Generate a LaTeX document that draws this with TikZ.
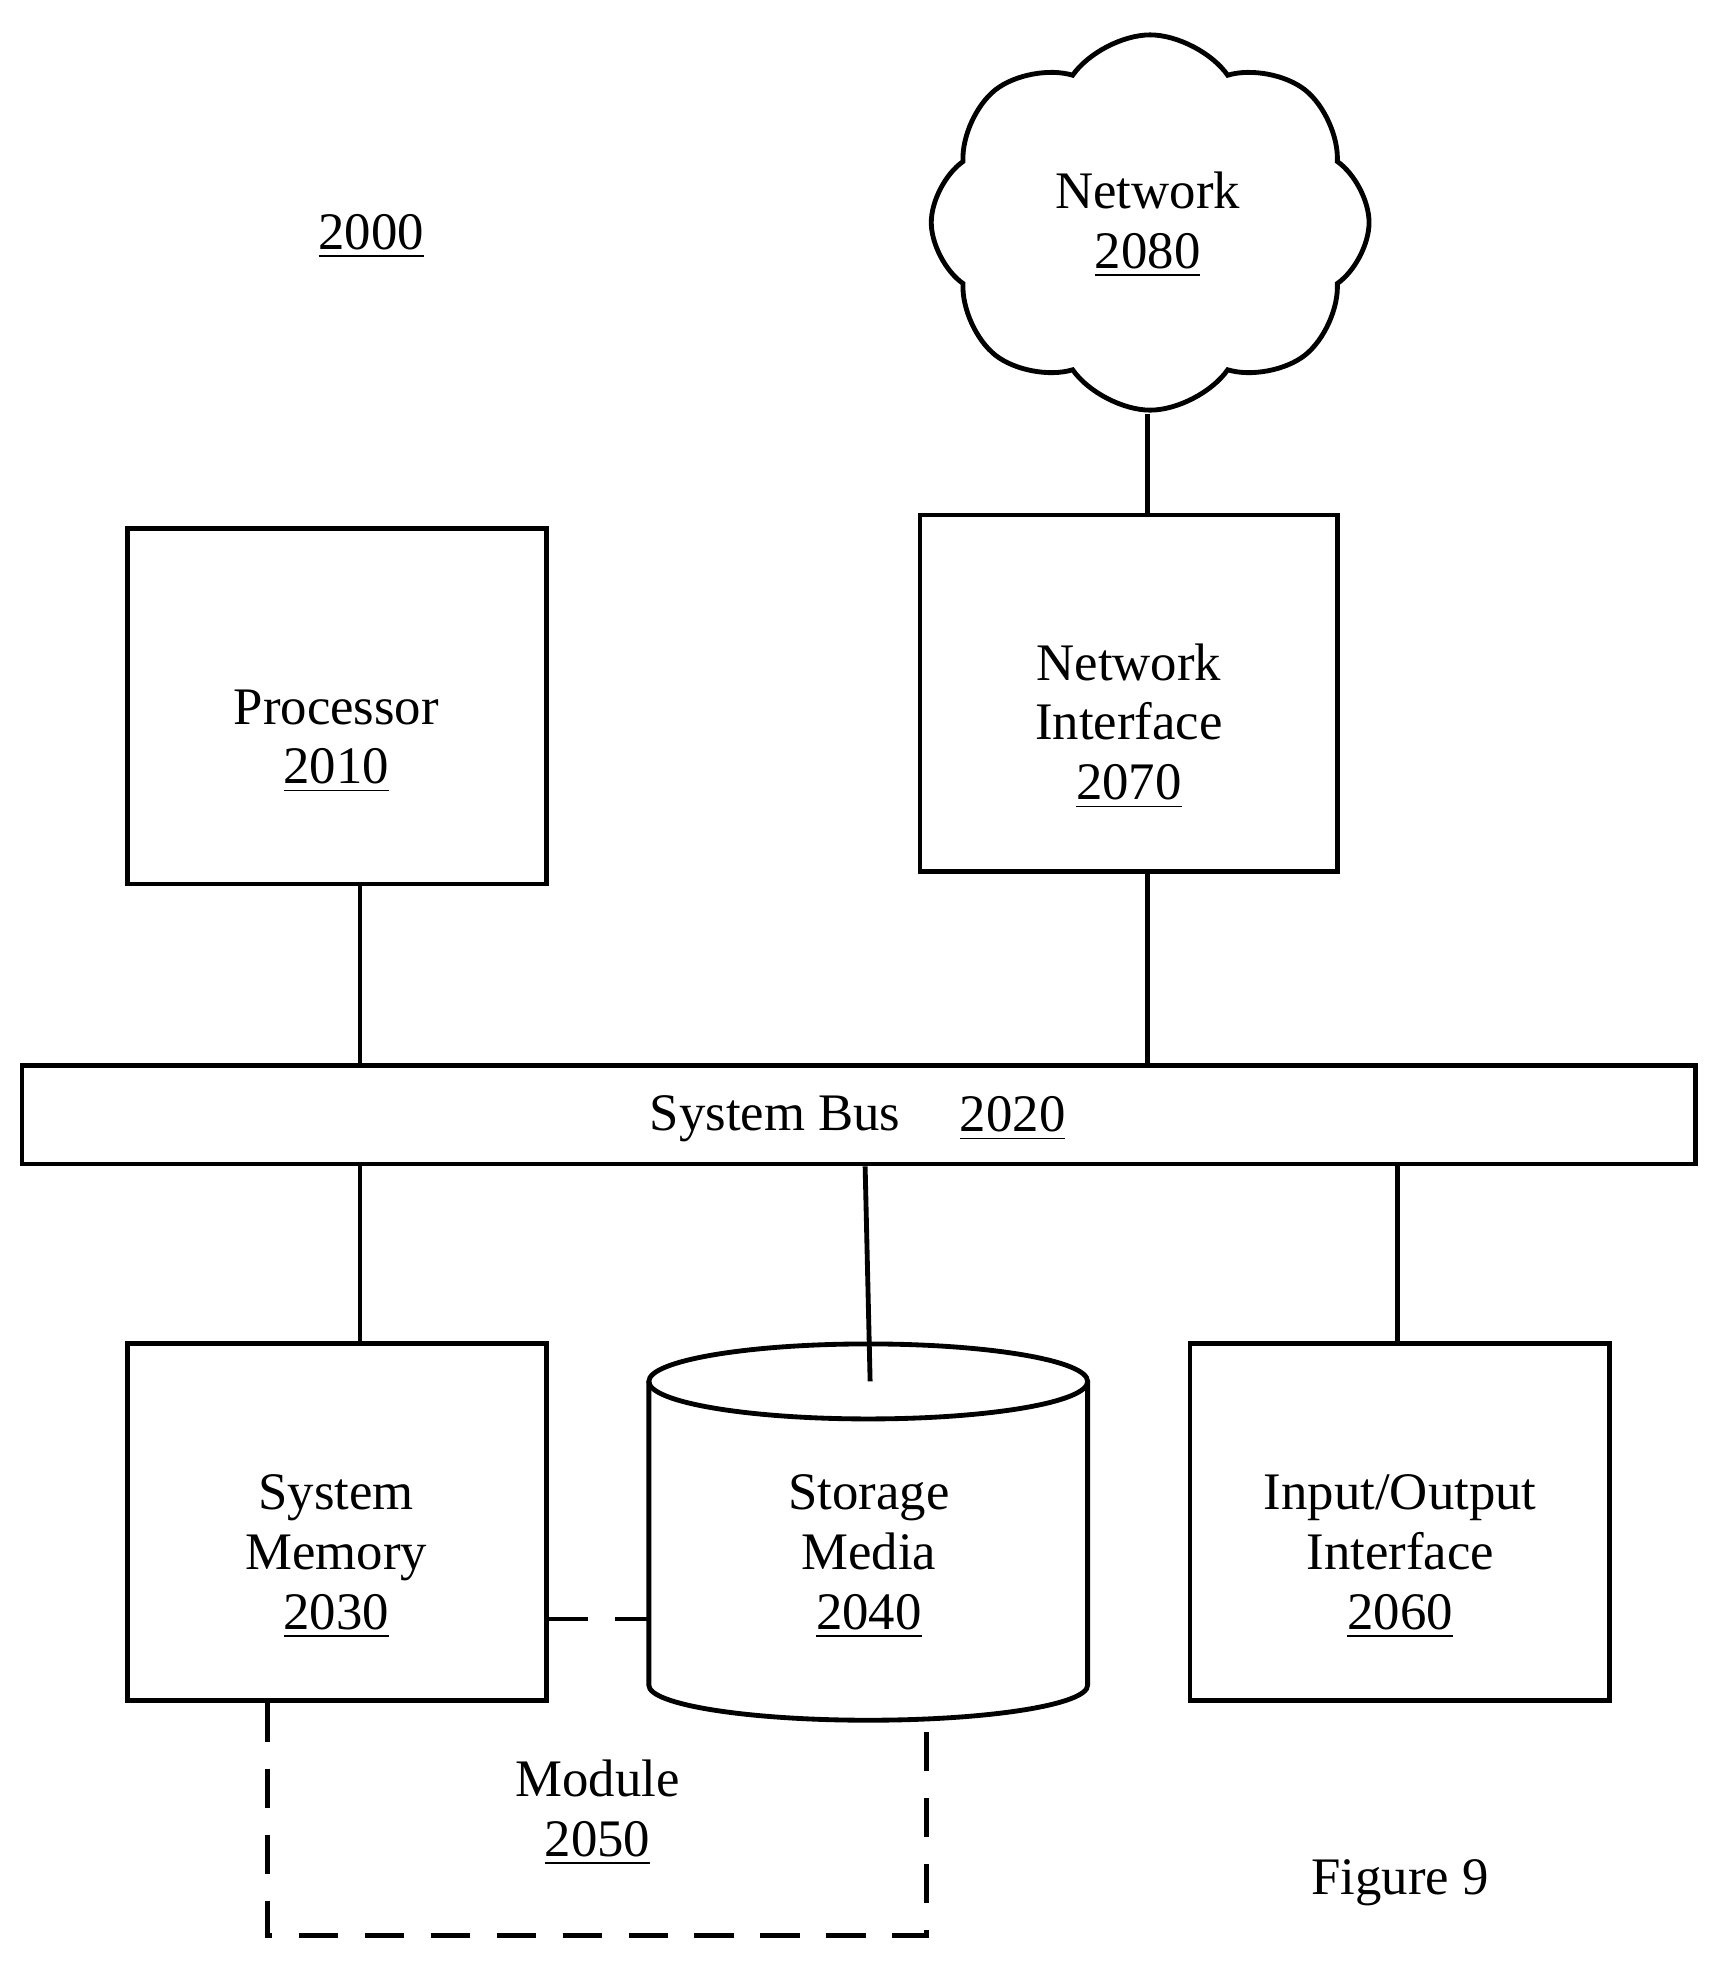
\documentclass[tikz,border=0pt]{standalone}
\usepackage{fontspec}
\setmainfont{Liberation Serif}
\usetikzlibrary{shapes.symbols}
\begin{document}
\begin{tikzpicture}[x=0.01cm,y=-0.01cm,
  lw/.style={line width=1.1pt},
  box/.style={lw,draw},
  lbl/.style={font=\fontsize{12}{13.6}\selectfont,align=center,inner sep=0},
  dsh/.style={lw,dash pattern=on 9pt off 6pt}]
\useasboundingbox (0,0) rectangle (1377,1571);
\node[lbl] (t2000) at (297,189) {\underline{2000}};
\node[cloud,cloud puffs=8,cloud puff arc=110,aspect=1.1,draw,lw,minimum width=3.5cm,minimum height=3.0cm] (net) at (920,178) {};
\node[lbl] at (918,180) {Network\\\underline{2080}};
\coordinate (netb) at (918,331);
\node[box,minimum width=3.34cm,minimum height=2.85cm] (ni) at (903,554.5) {};
\node[lbl] at (903,581) {Network\\Interface\\\underline{2070}};
\node[box,minimum width=3.35cm,minimum height=2.84cm] (proc) at (269.5,565) {};
\node[lbl] at (269,593) {Processor\\\underline{2010}};
\node[box,minimum width=13.38cm,minimum height=0.79cm] (bus) at (687,891.5) {};
\node[lbl] at (620,895) {System Bus};
\node[lbl] at (810,895) {\underline{2020}};
\node[box,minimum width=3.35cm,minimum height=2.85cm] (mem) at (269.5,1217.5) {};
\node[lbl] at (269,1245) {System\\Memory\\\underline{2030}};
\node[box,minimum width=3.35cm,minimum height=2.85cm] (io) at (1119.5,1217.5) {};
\node[lbl] at (1120,1245) {Input/Output\\Interface\\\underline{2060}};
% cylinder
\draw[lw] (519,1105) -- (519,1348) arc[start angle=180,end angle=0,x radius=175.5,y radius=28] -- (870,1105);
\draw[lw] (694.5,1105) ellipse[x radius=175.5,y radius=30];
\node[lbl] (stor) at (695,1245) {Storage\\Media\\\underline{2040}};
\coordinate (stortop) at (696,1105);
\coordinate (storleft) at (519,1295);
\coordinate (storbot) at (741,1378);
\node[lbl] (mod) at (478,1450) {Module\\\underline{2050}};
\node[lbl] (fig) at (1120,1506) {Figure 9};
% connectors
\draw[lw] (netb) -- (ni.north -| netb);
\draw[lw] (proc.south -| 288,0) -- (bus.north -| 288,0);
\draw[lw] (ni.south -| 918,0) -- (bus.north -| 918,0);
\draw[lw] (bus.south -| 288,0) -- (mem.north -| 288,0);
\draw[lw] (bus.south -| 692,0) -- (stortop);
\draw[lw] (bus.south -| 1118,0) -- (io.north -| 1118,0);
\draw[dsh] (mem.east |- storleft) -- (storleft);
\draw[dsh] (mem.south -| 214,0) -- (214,1548) -- (741,1548) -- (storbot);
\end{tikzpicture}
\end{document}
